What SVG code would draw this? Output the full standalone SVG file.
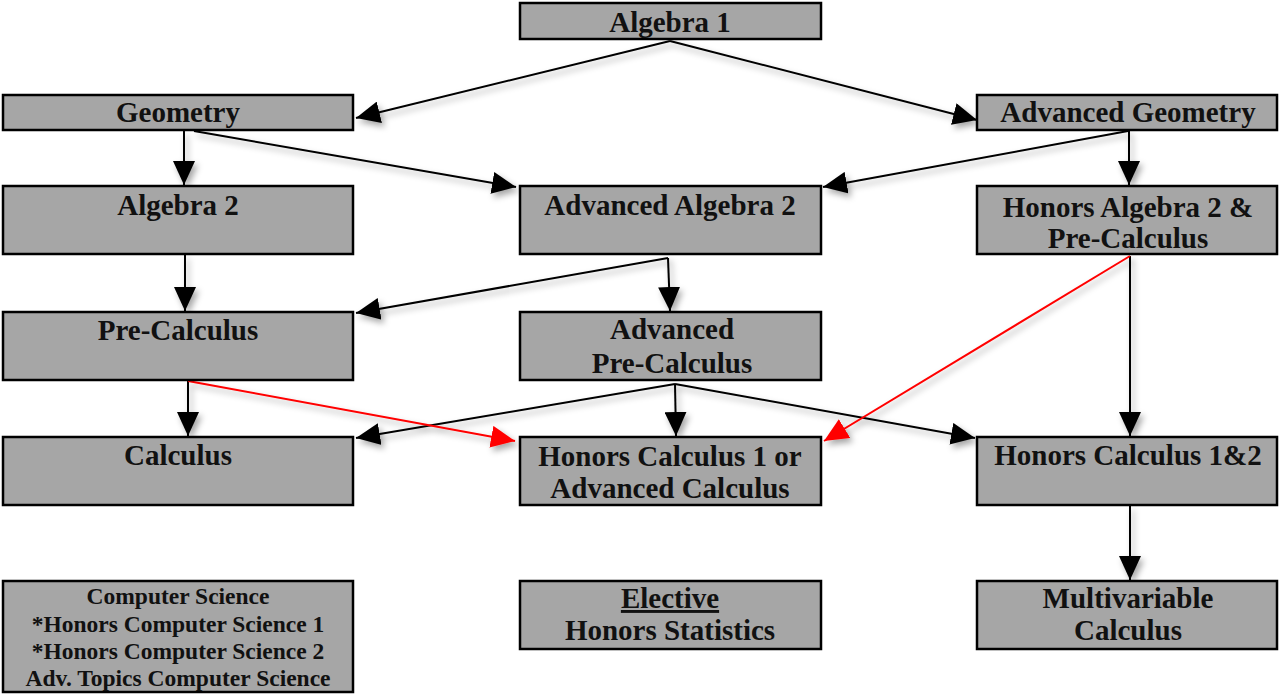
<svg xmlns="http://www.w3.org/2000/svg" width="1279" height="694" viewBox="0 0 1279 694">
<style>
.box{fill:#a6a6a6;stroke:#000;stroke-width:2.5}
.t{font-family:"Liberation Serif","Times New Roman",serif;font-weight:bold;font-size:29px;fill:#111;text-anchor:middle}
.s{font-size:23.5px}
.c{fill:none;stroke:#000;stroke-width:2}
.r{fill:none;stroke:#f00;stroke-width:2}
</style>
<defs>
<filter id="sh" x="-20%" y="-20%" width="140%" height="140%">
<feDropShadow dx="3" dy="4" stdDeviation="3" flood-color="#000" flood-opacity="0.35"/>
</filter>
<marker id="ab" markerWidth="24" markerHeight="22" refX="24" refY="11" orient="auto" markerUnits="userSpaceOnUse">
<path d="M0,0 L24,11 L0,22 Z" fill="#000"/>
</marker>
<marker id="ar" markerWidth="24" markerHeight="22" refX="24" refY="11" orient="auto" markerUnits="userSpaceOnUse">
<path d="M0,0 L24,11 L0,22 Z" fill="#f00"/>
</marker>
</defs>
<g id="connectors" filter="url(#sh)">
<path class="c" d="M670,41 L356,118" marker-end="url(#ab)"/>
<path class="c" d="M670,41 L977,120" marker-end="url(#ab)"/>
<path class="c" d="M184,131 L184,185" marker-end="url(#ab)"/>
<path class="c" d="M194,131 L516,187" marker-end="url(#ab)"/>
<path class="c" d="M1128,131 L823,187" marker-end="url(#ab)"/>
<path class="c" d="M1129,131 L1129,185" marker-end="url(#ab)"/>
<path class="c" d="M185,255 L185,311" marker-end="url(#ab)"/>
<path class="c" d="M668,258 L356,313" marker-end="url(#ab)"/>
<path class="c" d="M668,258 L670,311" marker-end="url(#ab)"/>
<path class="c" d="M675,384 L356,438" marker-end="url(#ab)"/>
<path class="c" d="M675,384 L676,436" marker-end="url(#ab)"/>
<path class="c" d="M675,384 L975,438" marker-end="url(#ab)"/>
<path class="c" d="M188,381 L188,436" marker-end="url(#ab)"/>
<path class="c" d="M1130,256 L1130,436" marker-end="url(#ab)"/>
<path class="c" d="M1130,506 L1130,580" marker-end="url(#ab)"/>
<path class="r" d="M188,381 L515,441" marker-end="url(#ar)"/>
<path class="r" d="M1130,256 L824,441" marker-end="url(#ar)"/>
</g>
<g id="algebra1"><rect class="box" x="520" y="3" width="301" height="36"/><text class="t" x="670" y="32">Algebra 1</text></g>
<g id="geometry"><rect class="box" x="3" y="95" width="350" height="35"/><text class="t" x="178" y="122">Geometry</text></g>
<g id="advgeometry"><rect class="box" x="977" y="95" width="300" height="35"/><text class="t" x="1128" y="122">Advanced Geometry</text></g>
<g id="algebra2"><rect class="box" x="3" y="186" width="350" height="68"/><text class="t" x="178" y="215">Algebra 2</text></g>
<g id="advalgebra2"><rect class="box" x="520" y="186" width="301" height="68"/><text class="t" x="670" y="215">Advanced Algebra 2</text></g>
<g id="honalgebra2"><rect class="box" x="977" y="186" width="300" height="68"/><text class="t" x="1128" y="217">Honors Algebra 2 &amp;</text><text class="t" x="1128" y="248">Pre-Calculus</text></g>
<g id="precalc"><rect class="box" x="3" y="312" width="350" height="68"/><text class="t" x="178" y="340">Pre-Calculus</text></g>
<g id="advprecalc"><rect class="box" x="520" y="312" width="301" height="68"/><text class="t" x="672" y="339">Advanced</text><text class="t" x="672" y="373">Pre-Calculus</text></g>
<g id="calculus"><rect class="box" x="3" y="437" width="350" height="68"/><text class="t" x="178" y="465">Calculus</text></g>
<g id="honcalc1"><rect class="box" x="520" y="437" width="301" height="68"/><text class="t" x="670" y="466">Honors Calculus 1 or</text><text class="t" x="670" y="498">Advanced Calculus</text></g>
<g id="honcalc12"><rect class="box" x="977" y="437" width="300" height="68"/><text class="t" x="1128" y="465">Honors Calculus 1&amp;2</text></g>
<g id="compsci"><rect class="box" x="3" y="581" width="350" height="111"/>
<text class="t s" x="178" y="604">Computer Science</text>
<text class="t s" x="178" y="632">*Honors Computer Science 1</text>
<text class="t s" x="178" y="659">*Honors Computer Science 2</text>
<text class="t s" x="178" y="686">Adv. Topics Computer Science</text></g>
<g id="elective"><rect class="box" x="520" y="581" width="301" height="68"/><text class="t" x="670" y="608" text-decoration="underline">Elective</text><text class="t" x="670" y="640">Honors Statistics</text></g>
<g id="multivariable"><rect class="box" x="977" y="581" width="300" height="68"/><text class="t" x="1128" y="608">Multivariable</text><text class="t" x="1128" y="640">Calculus</text></g>
</svg>
